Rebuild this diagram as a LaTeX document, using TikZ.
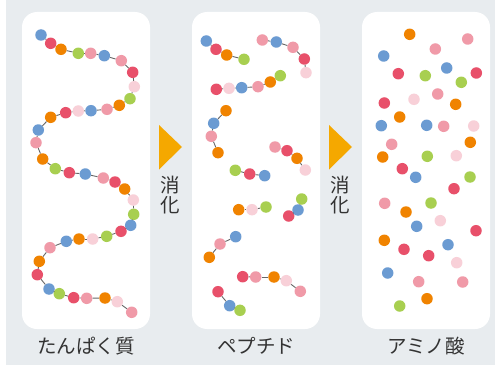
\documentclass[tikz,border=0pt]{standalone}
\usepackage{fontspec}
\newfontfamily\jp{Noto Sans CJK JP}
\definecolor{bgc}{HTML}{E8ECEF}
\definecolor{ablue}{HTML}{6B9BD2}
\definecolor{ared}{HTML}{E8506A}
\definecolor{aorange}{HTML}{F08300}
\definecolor{agreen}{HTML}{A8CF50}
\definecolor{apink}{HTML}{F09AA8}
\definecolor{alight}{HTML}{F8D0D8}
\definecolor{arrowc}{HTML}{F5A800}
\definecolor{txt}{HTML}{333333}
\tikzset{
  dot/.style={circle,inner sep=0pt,minimum size=11.5pt,draw=none},
  link/.style={draw=black!60,line width=0.9pt},
  panel/.style={fill=white,draw=none,rounded corners=15pt},
  caption/.style={font=\jp\fontsize{19.5}{20}\selectfont,text=txt,inner sep=0pt},
  stepmark/.style={fill=arrowc,draw=none},
  steplabel/.style={font=\jp\fontsize{19.5}{20}\selectfont,text=txt,align=center,inner sep=0pt},
}
% a chain of amino acids: dots joined one after another
\newcommand\aachain[2]{%
  \foreach [count=\i] \x/\y/\c in {#2} {%
    \node[dot,fill=\c] (#1-\i) at (\x,\y) {};
    \ifnum\i>1
      \pgfmathtruncatemacro\prev{\i-1}
      \draw[link] (#1-\prev) -- (#1-\i);
    \fi
  }%
}
\begin{document}
\begin{tikzpicture}[x=1pt,y=-1pt]
\useasboundingbox (0,0) rectangle (501,369);
\fill[bgc] (6,0) rectangle (495,365);

% panels
\path[panel] (22,12) rectangle (150,329);
\path[panel] (192,12) rectangle (320,329);
\path[panel] (362,12) rectangle (490,329);

% protein: one long chain
\aachain{pr}{41/35/ablue,50.7/43.3/ared,61/49.3/aorange,78.3/53.3/agreen,90.7/53.3/apink,
104.3/55.7/ablue,121.3/60.7/apink,132.7/72.3/ared,134.3/86.7/alight,130/98.7/agreen,
119.3/105.3/aorange,107/109.3/apink,91/110.7/ablue,78.3/111/alight,65.7/112.7/ared,
50.7/117.3/aorange,38.3/130/ablue,36/142.7/apink,42.7/159/aorange,55.3/168.7/agreen,
69.3/172.7/ared,85.3/174/ablue,103.3/178/apink,115/182/ared,124.7/189/aorange,
133.3/200/alight,133.7/214.3/agreen,130.7/225.3/ablue,121/231.3/ared,106.7/236.3/agreen,
92.7/239/alight,79/239/aorange,66.3/241.3/ablue,50/247.7/apink,39.3/261.3/aorange,
37.3/274.7/ared,49/289/ablue,59.3/293.7/agreen,73.7/297.7/ared,86.7/298.3/apink,
105/298/aorange,117.3/301.7/alight,131.7/312.3/apink}

% peptides: short chains
\aachain{pa}{206.3/41/ablue,216/49.3/ared,226.7/55/aorange,244/59.3/agreen}
\aachain{pb}{262.3/40/apink,276.3/42/ablue,293/47.3/apink,304.3/59/ared,306/72.7/alight}
\aachain{pc}{216.3/89.3/ared,229/88.3/alight,241.7/87.7/ablue,258/86.7/apink,270.3/82/aorange,280.3/75.7/agreen}
\aachain{pd}{226/110.7/aorange,213.7/123.3/ablue,211.3/136.3/apink,218/152.7/aorange}
\aachain{pe}{275/147/apink,287/150.7/ared,297/158.3/aorange,305.3/170/alight}
\aachain{pf}{235.3/170.3/agreen,249.7/174/ared,264.7/175.7/ablue}
\aachain{pg}{238.7/209.7/aorange,252/209.7/alight,266/207/agreen}
\aachain{ph}{288.7/216/ared,298/210/ablue,301.7/199/agreen}
\aachain{pi}{235.7/236.7/ablue,220/244/apink,209.3/257.3/aorange}
\aachain{pj}{242.7/276.7/ared,255.7/277/apink,274/277/aorange,286.3/280.7/alight,300.3/291.3/apink}
\aachain{pk}{218/291.7/ared,229.7/305.7/ablue,240/310.3/agreen}

% amino acids: free dots
\foreach [count=\i] \x/\y/\c in {409.7/34.3/aorange,467.7/39/apink,435.3/49/apink,383.7/56/ablue,
398.3/73.7/ared,425.3/75.7/agreen,446.7/68/ablue,476.3/73/ared,461.3/82.3/agreen,
384.3/103/ared,414/99.3/alight,437.7/94/apink,455.7/104.3/aorange,399.7/117/aorange,
381.3/125.7/ablue,426.7/125.3/ablue,443.7/126.3/apink,473.7/126/alight,391.7/144.3/apink,
470.3/142.3/aorange,382.7/157/aorange,427.3/156.3/agreen,456.3/155.7/alight,402.3/168.7/ared,
415.7/177.3/ablue,470/177/agreen,454/188.7/ared,384.7/203.3/apink,406/212/aorange,
431/203/agreen,440.3/220.7/alight,416.7/226.3/ablue,476/230.7/ared,384.3/240.3/aorange,
404/249.3/ared,428.7/255.7/ared,448/244.7/ablue,456.7/262.7/alight,387.7/273/ablue,
418.7/281.7/apink,462.7/282/apink,427/298.7/aorange,399.7/306/agreen}
  \node[dot,fill=\c] (aa-\i) at (\x,\y) {};

% digestion steps
\fill[stepmark] (159,125) -- (182,147) -- (159,169.5) -- cycle;
\node[steplabel] (d1) at (170.5,195) {消\\化};
\fill[stepmark] (329,125) -- (352,147) -- (329,169.5) -- cycle;
\node[steplabel] (d2) at (340.5,195) {消\\化};

% captions
\node[caption] (c1) at (86,346) {たんぱく質};
\node[caption] (c2) at (256,346) {ペプチド};
\node[caption] (c3) at (426,346) {アミノ酸};
\end{tikzpicture}
\end{document}
